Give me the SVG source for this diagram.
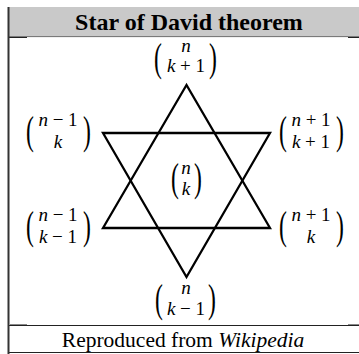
<svg xmlns="http://www.w3.org/2000/svg" width="359" height="354" viewBox="0 0 359 354">
<style>
.t{font-family:'Liberation Serif','DejaVu Serif',serif;fill:#000}
.m{font-family:'Liberation Serif','DejaVu Serif',serif;font-size:19px;fill:#000;text-anchor:middle}
.i{font-style:italic}
.p{font-family:'Liberation Serif','DejaVu Serif',serif;font-size:43px;fill:#000}
.star{fill:none;stroke:#000;stroke-width:2.3;stroke-linejoin:miter}
</style>
<rect x="0" y="0" width="359" height="354" fill="#fff"/>
<g id="frame">
<rect x="9" y="7" width="350" height="29" fill="#c9c9c9"/>
<line x1="9" y1="36.5" x2="359" y2="36.5" stroke="#7a7a7a" stroke-width="1"/>
<line x1="27" y1="37.5" x2="348" y2="37.5" stroke="#efefef" stroke-width="1"/>
<line x1="9" y1="37.5" x2="27" y2="37.5" stroke="#222" stroke-width="1"/>
<line x1="348" y1="37.5" x2="359" y2="37.5" stroke="#222" stroke-width="1"/>
<line x1="10" y1="324.5" x2="27" y2="324.5" stroke="#888" stroke-width="1"/>
<line x1="348" y1="324.5" x2="359" y2="324.5" stroke="#888" stroke-width="1"/>
<line x1="9" y1="325.5" x2="359" y2="325.5" stroke="#222" stroke-width="1"/>
<line x1="9" y1="352.5" x2="359" y2="352.5" stroke="#222" stroke-width="1"/>
<line x1="8.5" y1="7" x2="8.5" y2="354" stroke="#333" stroke-width="2"/>
<text class="t" x="189" y="29.5" font-size="24" font-weight="bold" text-anchor="middle">Star of David theorem</text>
<text class="t" x="183" y="347" font-size="21.5" text-anchor="middle">Reproduced from <tspan class="i">Wikipedia</tspan></text>
</g>
<g id="connectors">
<polygon class="star" points="186.5,85 103,228 270,228"/>
<polygon class="star" points="103,133 270,133 186.5,277"/>
</g>
<g id="top">
<text class="p" transform="translate(154,70.5) scale(0.55,0.92)">(</text>
<text class="m" x="186" y="51.5" font-size="18.5"><tspan class="i">n</tspan></text>
<text class="m" x="186" y="72"><tspan class="i">k</tspan> + 1</text>
<text class="p" transform="translate(209,70.5) scale(0.55,0.92)">)</text>
</g>
<g id="center">
<text class="p" transform="translate(171,191) scale(0.55,0.92)">(</text>
<text class="m" x="186" y="174"><tspan class="i">n</tspan></text>
<text class="m" x="186" y="195"><tspan class="i">k</tspan></text>
<text class="p" transform="translate(194,191) scale(0.55,0.92)">)</text>
</g>
<g id="bottom">
<text class="p" transform="translate(155,312) scale(0.55,0.92)">(</text>
<text class="m" x="186" y="294"><tspan class="i">n</tspan></text>
<text class="m" x="186" y="315"><tspan class="i">k</tspan> − 1</text>
<text class="p" transform="translate(208,312) scale(0.55,0.92)">)</text>
</g>
<g id="left-upper">
<text class="p" transform="translate(26,144) scale(0.55,0.92)">(</text>
<text class="m" x="58" y="126"><tspan class="i">n</tspan> − 1</text>
<text class="m" x="58" y="148"><tspan class="i">k</tspan></text>
<text class="p" transform="translate(83,144) scale(0.55,0.92)">)</text>
</g>
<g id="left-lower">
<text class="p" transform="translate(26,239) scale(0.55,0.92)">(</text>
<text class="m" x="58" y="221"><tspan class="i">n</tspan> − 1</text>
<text class="m" x="58" y="243"><tspan class="i">k</tspan> − 1</text>
<text class="p" transform="translate(83,239) scale(0.55,0.92)">)</text>
</g>
<g id="right-upper">
<text class="p" transform="translate(279,144) scale(0.55,0.92)">(</text>
<text class="m" x="311" y="126"><tspan class="i">n</tspan> + 1</text>
<text class="m" x="311" y="148"><tspan class="i">k</tspan> + 1</text>
<text class="p" transform="translate(336,144) scale(0.55,0.92)">)</text>
</g>
<g id="right-lower">
<text class="p" transform="translate(279,239) scale(0.55,0.92)">(</text>
<text class="m" x="311" y="221"><tspan class="i">n</tspan> + 1</text>
<text class="m" x="311" y="243"><tspan class="i">k</tspan></text>
<text class="p" transform="translate(336,239) scale(0.55,0.92)">)</text>
</g>
</svg>
